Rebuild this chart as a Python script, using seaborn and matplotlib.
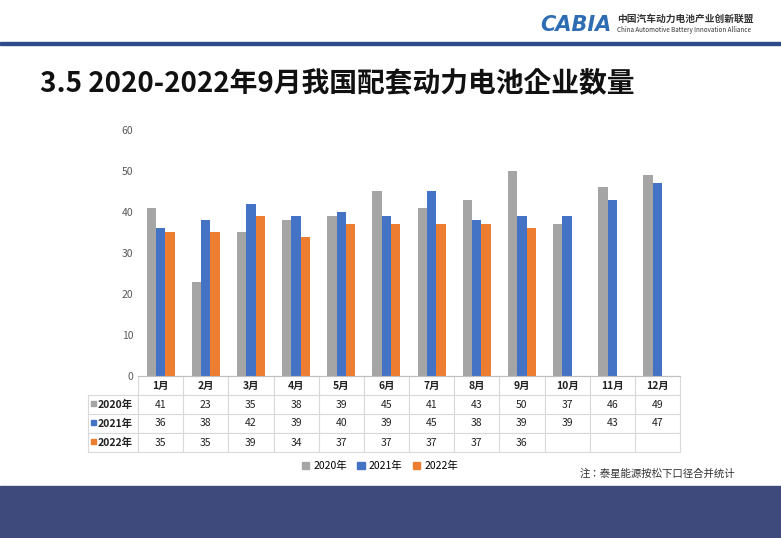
import matplotlib
matplotlib.use("Agg")
import matplotlib.pyplot as plt
import seaborn as sns
import pandas as pd
from matplotlib.patches import Rectangle

CJK = "Noto Sans CJK JP"
plt.rcParams["font.family"] = [CJK, "DejaVu Sans"]

months = ["1月","2月","3月","4月","5月","6月","7月","8月","9月","10月","11月","12月"]
series = ["2020年","2021年","2022年"]
v2020 = [41,23,35,38,39,45,41,43,50,37,46,49]
v2021 = [36,38,42,39,40,39,45,38,39,39,43,47]
v2022 = [35,35,39,34,37,37,37,37,36]
colors = ["#A5A5A5","#4472C4","#ED7D31"]

rows = []
for s, vals in zip(series, [v2020, v2021, v2022]):
    for m, v in zip(months, vals):
        rows.append((m, s, v))
df = pd.DataFrame(rows, columns=["month","series","value"])

fig = plt.figure(figsize=(7.81,5.38), dpi=100)
W, H = 781, 538
fig.add_artist(Rectangle((0,1-45/H),1,3/H, transform=fig.transFigure, color="#2E4A8B"))
fig.text(540/W, 1-25/H, "CABIA", fontsize=15, style="italic", fontweight="bold", color="#2E6DB4", va="center", family="DejaVu Sans")
fig.text(617/W, 1-19/H, "中国汽车动力电池产业创新联盟", fontsize=7, color="#333333", va="center", fontweight="bold")
fig.text(617/W, 1-30/H, "China Automotive Battery Innovation Alliance", fontsize=4.5, color="#333333", va="center")
fig.text(40/W, 1-84/H, "3.5 2020-2022年9月我国配套动力电池企业数量", fontsize=20, fontweight="bold",
         color="#111111", va="center")
fig.add_artist(Rectangle((0,0),1,52/H, transform=fig.transFigure, color="#3E4A7C"))
fig.text(735/W, 1-474/H, "注：泰星能源按松下口径合并统计", fontsize=7.5, ha="right", va="center", color="#333333")

ax = fig.add_axes([138/W, 1-376/H, 542/W, 246/H])
sns.barplot(data=df, x="month", y="value", hue="series", order=months, hue_order=series,
            palette=colors, width=0.62, ax=ax, legend=False, saturation=1)
ax.set_ylim(0,60)
ax.set_yticks(range(0,61,10))
ax.tick_params(axis="y", length=0, labelsize=7.5, labelcolor="#595959")
ax.tick_params(axis="x", length=0, labelbottom=False)
ax.set_xlabel(""); ax.set_ylabel("")
for sp in ["top","right","left"]:
    ax.spines[sp].set_visible(False)
ax.spines["bottom"].set_color("#BFBFBF")

cell = [[""]+months]
for s, vals in zip(series, [v2020, v2021, v2022]):
    cell.append([s] + [str(v) for v in vals] + [""]*(12-len(vals)))
left = (88-138)/542
tb = ax.table(cellText=cell, bbox=[left, -76/246, 1-left, 76/246], cellLoc="center",
              colWidths=[50/542]+[1/12]*12)
tb.auto_set_font_size(False)
tb.set_fontsize(7.5)
for (r,c), ce in tb.get_celld().items():
    ce.set_edgecolor("#D9D9D9")
    ce.set_linewidth(0.8)
    ce.get_text().set_color("#222222")
    if r==0 and c==0:
        ce.visible_edges = ""
    if c==0 and r>0:
        ce.get_text().set_ha("right")
        ce._loc = "right"
        ce.get_text().set_fontweight("bold")
    if r==0 and c>0:
        ce.get_text().set_fontweight("bold")
for i,col in enumerate(colors):
    y = 1-(403+19*i)/H
    fig.add_artist(Rectangle((91/W, y-3/H), 5/W, 5/H, transform=fig.transFigure, color=col))

handles = [Rectangle((0,0),1,1,color=c) for c in colors]
fig.legend(handles, series, loc="center", bbox_to_anchor=(380/W, 1-466/H), ncol=3,
           frameon=False, fontsize=7.5, handlelength=0.7, handleheight=0.7, columnspacing=1.0, handletextpad=0.4)
fig.savefig("out.png", dpi=100)
